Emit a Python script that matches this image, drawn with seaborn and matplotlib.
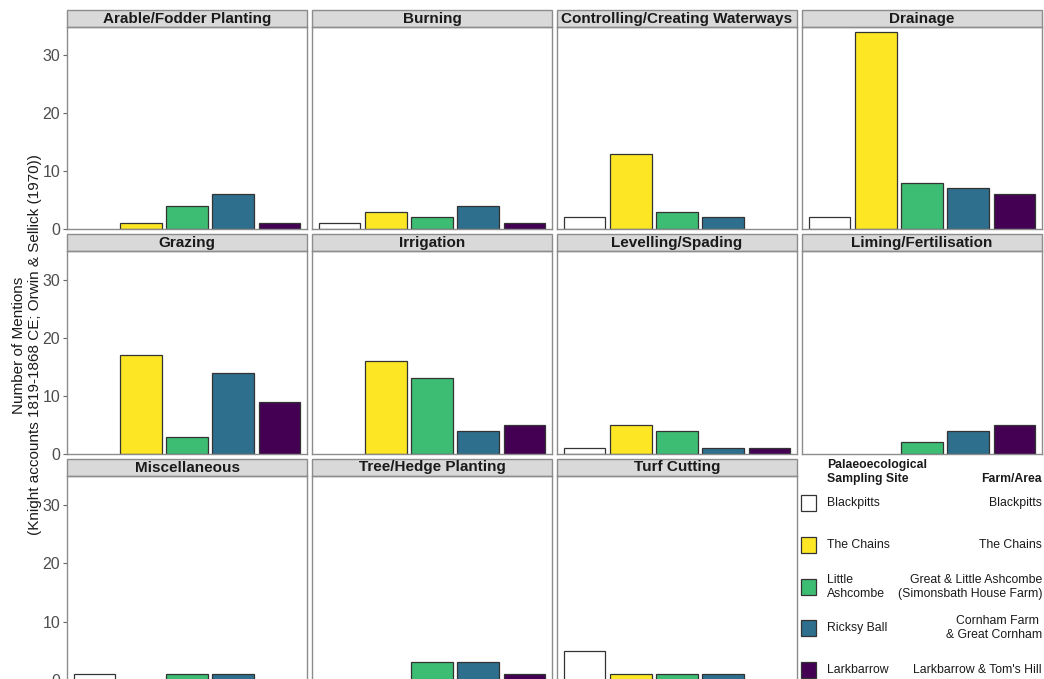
import pandas as pd
import seaborn as sns
import matplotlib.pyplot as plt
from matplotlib.patches import Rectangle

sns.set_style("white")
plt.rcParams["font.family"] = ["Liberation Sans", "DejaVu Sans"]

# Data
practices = ["Arable/Fodder Planting", "Burning", "Controlling/Creating Waterways", "Drainage",
             "Grazing", "Irrigation", "Levelling/Spading", "Liming/Fertilisation",
             "Miscellaneous", "Tree/Hedge Planting", "Turf Cutting"]
sites = ["Blackpitts", "The Chains", "Little\nAshcombe", "Ricksy Ball", "Larkbarrow"]
farms = ["Blackpitts", "The Chains", "Great & Little Ashcombe\n(Simonsbath House Farm)",
         "Cornham Farm \n& Great Cornham", "Larkbarrow & Tom's Hill"]
blackpitts = [0, 1, 2, 2, 0, 0, 1, 0, 1, 0, 5]
the_chains = [1, 3, 13, 34, 17, 16, 5, 0, 0, 0, 1]
little_ashcombe = [4, 2, 3, 8, 3, 13, 4, 2, 1, 3, 1]
ricksy_ball = [6, 4, 2, 7, 14, 4, 1, 4, 1, 3, 1]
larkbarrow = [1, 1, 0, 6, 9, 5, 1, 5, 0, 1, 0]
colors = ["#FFFFFF", "#FDE725", "#3DBC74", "#2E6F8E", "#440154"]

rows = []
for i, p in enumerate(practices):
    for s, vals in zip(sites, [blackpitts, the_chains, little_ashcombe, ricksy_ball, larkbarrow]):
        rows.append({"practice": p, "site": s, "count": vals[i]})
df = pd.DataFrame(rows)

W, H = 1044, 679
fig = plt.figure(figsize=(W / 100, H / 100), dpi=100)

col_left = [67, 312, 557, 802]
row_top = [27, 251, 476]
row_bot = [229, 454, 680]
strip_h = 17

for i, p in enumerate(practices):
    r, c = divmod(i, 4)
    ax = fig.add_axes([col_left[c] / W, 1 - row_bot[r] / H, 240 / W, (row_bot[r] - row_top[r]) / H])
    sub = df[(df["practice"] == p) & (df["count"] > 0)]
    sns.barplot(data=sub, x="site", y="count", hue="site", order=sites, hue_order=sites,
                palette=colors, saturation=1, width=0.9, edgecolor="#333333", linewidth=0.9,
                legend=False, ax=ax)
    ax.set_xlim(-0.6, 4.6)
    ax.set_ylim(0, 34.9)
    ax.set_xlabel("")
    ax.set_ylabel("")
    ax.set_xticks([])
    ax.set_yticks([0, 10, 20, 30])
    if c == 0:
        ax.tick_params(axis="y", left=True, length=3, color="#666666", labelcolor="#4D4D4D",
                       labelsize=11.5, pad=2)
    else:
        ax.tick_params(axis="y", left=False, labelleft=False)
    for sp in ax.spines.values():
        sp.set_color("#8C8C8C")
        sp.set_linewidth(1)
    # strip
    h = strip_h / (row_bot[r] - row_top[r])
    ax.add_patch(Rectangle((0, 1), 1, h, transform=ax.transAxes, facecolor="#D9D9D9",
                           edgecolor="#8C8C8C", linewidth=1, clip_on=False))
    ax.text(0.5, 1 + h / 2, p, transform=ax.transAxes, ha="center", va="center",
            fontsize=11, fontweight="bold", color="#1A1A1A")

fig.text(27 / W, 1 - 345 / H,
         "Number of Mentions\n(Knight accounts 1819-1868 CE; Orwin & Sellick (1970))",
         rotation=90, ha="center", va="center", fontsize=11, color="#1A1A1A",
         linespacing=1.1)

# legend
fig.text(827 / W, 1 - 472 / H, "Palaeoecological\nSampling Site", ha="left", va="center",
         fontsize=8.8, fontweight="bold", color="#1A1A1A", linespacing=1.15)
fig.text(1042 / W, 1 - 479 / H, "Farm/Area", ha="right", va="center",
         fontsize=8.8, fontweight="bold", color="#1A1A1A")
item_y = [503, 545, 587, 628, 670]
for s, f, col, y in zip(sites, farms, colors, item_y):
    fig.patches.append(Rectangle((801 / W, 1 - (y + 8) / H), 15 / W, 16 / H,
                                 transform=fig.transFigure, facecolor=col,
                                 edgecolor="#333333", linewidth=0.9))
    fig.text(827 / W, 1 - y / H, s, ha="left", va="center", fontsize=8.8,
             color="#1A1A1A", linespacing=1.15)
    fig.text(1042 / W, 1 - y / H, f, ha="right", va="center", fontsize=8.8,
             color="#1A1A1A", linespacing=1.15, multialignment="right")

fig.savefig("out.png", dpi=100)
